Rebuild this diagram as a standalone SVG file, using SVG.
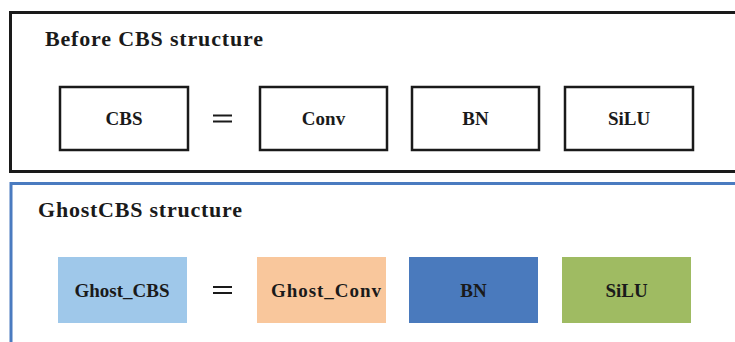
<svg xmlns="http://www.w3.org/2000/svg" width="735" height="342" viewBox="0 0 735 342">
  <style>
    .title { font-family: "Liberation Serif", "Times New Roman", serif; font-weight: bold; font-size: 22px; fill: #1a1a1a; }
    .lbl { font-family: "Liberation Serif", "Times New Roman", serif; font-weight: bold; font-size: 19px; fill: #1a1a1a; text-anchor: middle; dominant-baseline: central; }
    .plain { fill: #ffffff; stroke: #1a1a1a; stroke-width: 2.5; }
    .eq { stroke: #1a1a1a; stroke-width: 2; }
  </style>
  <rect width="735" height="342" fill="#ffffff"/>

  <!-- upper panel -->
  <g id="panel-before">
    <rect x="10.5" y="12.5" width="740" height="159" fill="none" stroke="#1a1a1a" stroke-width="3"/>
    <text class="title" x="45" y="46" textLength="218" lengthAdjust="spacing">Before CBS structure</text>
  </g>
  <g id="cbs">
    <rect class="plain" x="60" y="87" width="128" height="63"/>
    <text class="lbl" x="124" y="118">CBS</text>
  </g>
  <g id="conv">
    <rect class="plain" x="260" y="87" width="127" height="63"/>
    <text class="lbl" x="323.5" y="118">Conv</text>
  </g>
  <g id="bn1">
    <rect class="plain" x="412" y="87" width="127" height="63"/>
    <text class="lbl" x="475.5" y="118">BN</text>
  </g>
  <g id="silu1">
    <rect class="plain" x="565" y="87" width="128" height="63"/>
    <text class="lbl" x="629" y="118">SiLU</text>
  </g>

  <!-- lower panel -->
  <g id="panel-ghost">
    <rect x="11" y="183.5" width="740" height="170" fill="none" stroke="#4a7bc0" stroke-width="3"/>
    <text class="title" x="38" y="217" textLength="204" lengthAdjust="spacing">GhostCBS structure</text>
  </g>
  <g id="ghost-cbs">
    <rect x="58" y="257" width="129" height="66" fill="#9fc8ea"/>
    <text class="lbl" x="122" y="290">Ghost_CBS</text>
  </g>
  <g id="ghost-conv">
    <rect x="257" y="257" width="129" height="66" fill="#f9c79c"/>
    <text class="lbl" x="326" y="290" textLength="110" lengthAdjust="spacing">Ghost_Conv</text>
  </g>
  <g id="bn2">
    <rect x="409" y="257" width="129" height="66" fill="#4a7abd"/>
    <text class="lbl" x="473.5" y="290">BN</text>
  </g>
  <g id="silu2">
    <rect x="562" y="257" width="129" height="66" fill="#9fbb62"/>
    <text class="lbl" x="626.5" y="290">SiLU</text>
  </g>

  <!-- equality signs between the composite block and its parts -->
  <g id="connectors">
    <line class="eq" x1="213" y1="115.5" x2="232" y2="115.5"/>
    <line class="eq" x1="213" y1="121.5" x2="232" y2="121.5"/>
    <line class="eq" x1="213" y1="287" x2="232" y2="287"/>
    <line class="eq" x1="213" y1="293" x2="232" y2="293"/>
  </g>
</svg>
